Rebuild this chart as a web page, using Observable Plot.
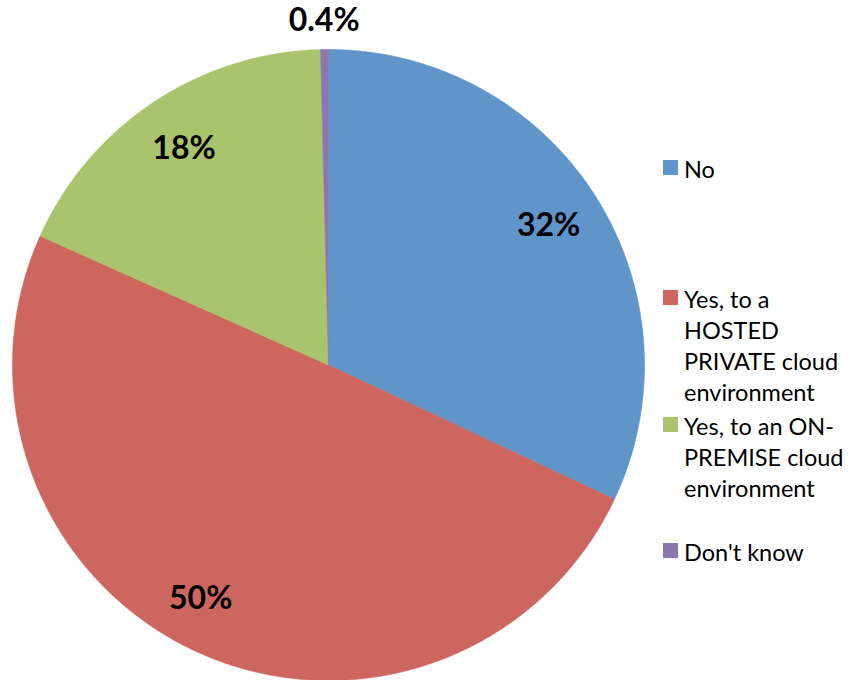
<!DOCTYPE html>
<html>
<head>
<meta charset="utf-8">
<script src="https://cdn.jsdelivr.net/npm/d3@7"></script>
<script src="https://cdn.jsdelivr.net/npm/@observablehq/plot@0.6"></script>
<style>
  html, body { margin: 0; padding: 0; background: #fff; }
  #wrap { position: relative; width: 848px; height: 680px; font-family: Lato, "Open Sans", sans-serif; }
  #chart { position: absolute; left: 0; top: 0; }
  .item { position: absolute; left: 663px; display: flex; align-items: flex-start; }
  .sw { width: 15px; height: 15px; margin-top: 6px; margin-right: 6px; flex: none; }
  .lbl { font-size: 23.5px; line-height: 31px; color: #000; width: 170px; }
</style>
</head>
<body>
<div id="wrap"><div id="chart"></div></div>
<script>
// Data
const categories = ["No", "Yes, to a HOSTED PRIVATE cloud environment", "Yes, to an ON-PREMISE cloud environment", "Don't know"];
const values = [32.0, 49.7, 17.9, 0.4];
const labels = ["32%", "50%", "18%", "0.4%"];
const colors = ["#5F95C9", "#CD665F", "#AAC36D", "#8D76AE"];

// Layout (legend item tops and label nudges, px)
const legendTops = [154, 284, 411, 537];
const labelDx = [0, -19, 0, 0];
const labelDy = [0, -3, 0, 0];

const rows = categories.map((c, i) => ({key: c, value: values[i], label: labels[i], dx: labelDx[i], dy: labelDy[i]}));
const arcs = d3.pie().sort(null).value(d => d.value)(rows);

// Build polygon points for each slice from pie angles
const pts = [];
for (const a of arcs) {
  const n = Math.max(4, Math.ceil((a.endAngle - a.startAngle) / 0.005));
  pts.push({key: a.data.key, x: 0, y: 0});
  for (let k = 0; k <= n; k++) {
    const t = a.startAngle + (a.endAngle - a.startAngle) * k / n;
    pts.push({key: a.data.key, x: Math.sin(t), y: Math.cos(t)});
  }
  pts.push({key: a.data.key, x: 0, y: 0});
}
const labelPts = arcs.map(a => {
  const m = (a.startAngle + a.endAngle) / 2;
  const r = a.data.value < 2 ? 1.09 : 0.825;
  return {label: a.data.label, x: r * Math.sin(m), y: r * Math.cos(m), dx: a.data.dx, dy: a.data.dy};
});

const plot = Plot.plot({
  width: 848,
  height: 680,
  marginLeft: 12,
  marginRight: 204,
  marginTop: 49,
  marginBottom: 0,
  x: {domain: [-1, 1], axis: null},
  y: {domain: [-1, 1], axis: null},
  color: {type: "ordinal", domain: categories, range: colors},
  style: {background: "#fff", overflow: "visible"},
  marks: [
    Plot.line(pts, {x: "x", y: "y", z: "key", fill: "key", stroke: "key", strokeWidth: 0.6, curve: "linear"}),
    ...labelPts.map(l => Plot.text([l], {x: "x", y: "y", text: "label", dx: l.dx, dy: l.dy, fontSize: 32, fontWeight: "bold", fontFamily: "Lato", fill: "#000"}))
  ]
});
document.getElementById("chart").appendChild(plot);

const wrap = document.getElementById("wrap");
categories.forEach((c, i) => {
  const it = document.createElement("div");
  it.className = "item";
  it.style.top = legendTops[i] + "px";
  const sw = document.createElement("div");
  sw.className = "sw";
  sw.style.background = colors[i];
  const lb = document.createElement("div");
  lb.className = "lbl";
  lb.textContent = c;
  it.appendChild(sw); it.appendChild(lb);
  wrap.appendChild(it);
});
</script>
</body>
</html>
